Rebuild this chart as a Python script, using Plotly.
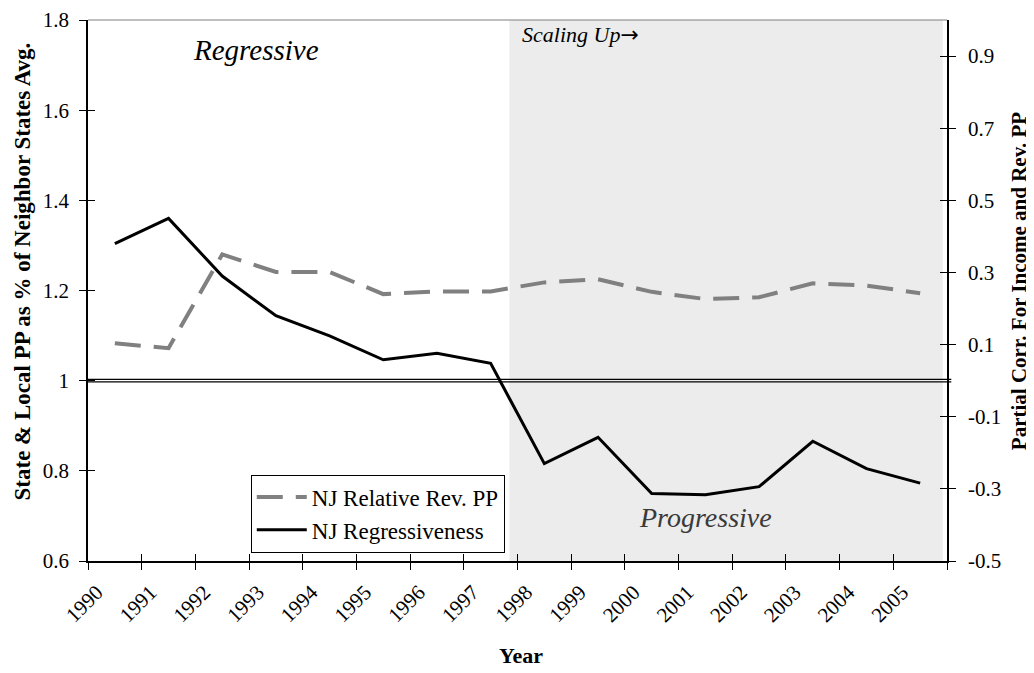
import plotly.graph_objects as go

years = [str(y) for y in range(1990, 2006)]
rel_rev_pp = [1.083, 1.072, 1.28, 1.241, 1.241, 1.192, 1.198, 1.198,
              1.218, 1.225, 1.197, 1.181, 1.185, 1.216, 1.211, 1.194]
regressiveness = [0.38, 0.45, 0.29, 0.18, 0.124, 0.058, 0.076, 0.048,
                  -0.23, -0.157, -0.313, -0.316, -0.294, -0.168, -0.244, -0.284]

left_ticks = [0.6, 0.8, 1.0, 1.2, 1.4, 1.6, 1.8]
left_ticktext = ["0.6", "0.8", "1", "1.2", "1.4", "1.6", "1.8"]
right_ticks = [-0.5, -0.3, -0.1, 0.1, 0.3, 0.5, 0.7, 0.9]
right_ticktext = ["-0.5", "-0.3", "-0.1", "0.1", "0.3", "0.5", "0.7", "0.9"]

FONT = "Liberation Serif"

fig = go.Figure()

fig.add_trace(go.Scatter(
    x=years, y=rel_rev_pp, name="NJ Relative Rev. PP", mode="lines",
    line=dict(color="#808080", width=4, dash="26px,13px"),
    xaxis="x", yaxis="y"))
fig.add_trace(go.Scatter(
    x=years, y=regressiveness, name="NJ Regressiveness", mode="lines",
    line=dict(color="#000000", width=3),
    xaxis="x", yaxis="y2"))

# invisible helper traces so overlay axes (inner tick halves) are drawn
for xa, ya, yy in [("x2", "y", rel_rev_pp), ("x", "y3", rel_rev_pp), ("x", "y4", regressiveness)]:
    fig.add_trace(go.Scatter(x=years, y=yy, mode="lines", opacity=0,
                             line=dict(width=0), showlegend=False,
                             hoverinfo="skip", xaxis=xa, yaxis=ya))

tick_common = dict(tickcolor="black", tickwidth=1.3, ticklen=7, showgrid=False,
                   zeroline=False, automargin=False)

# the page body adds an 8px offset, so the figure is sized to fill the 1034x673 window
fig.update_layout(
    width=1026, height=665,
    margin=dict(l=80, r=87, t=12, b=112),
    paper_bgcolor="white", plot_bgcolor="white",
    font=dict(family=FONT, color="black", size=22),
    xaxis=dict(type="category", categoryorder="array", categoryarray=years,
               range=[-0.5, 15.5], tickson="boundaries", ticks="outside",
               tickangle=-45, tickfont=dict(size=21, family=FONT),
               ticklabelstandoff=9, ticklabelshift=-18,
               showline=True, linecolor="black", linewidth=1.5,
               **tick_common),
    xaxis2=dict(type="category", categoryorder="array", categoryarray=years,
                range=[-0.5, 15.5], tickson="boundaries", ticks="inside",
                overlaying="x", anchor="y", side="bottom",
                showticklabels=False, showline=False, **tick_common),
    yaxis=dict(range=[0.6, 1.8], tickvals=left_ticks, ticktext=left_ticktext,
               ticks="outside", showline=True, linecolor="black", linewidth=1.5,
               tickfont=dict(size=21, family=FONT), ticklabelstandoff=6,
               ticklabeloverflow="allow",
               **tick_common),
    yaxis2=dict(range=[-0.5, 1.0], tickvals=right_ticks, ticktext=right_ticktext,
                overlaying="y", side="right", anchor="x",
                ticks="outside", showline=True, linecolor="black", linewidth=1.5,
                tickfont=dict(size=21, family=FONT), ticklabelstandoff=8,
                ticklabeloverflow="allow",
                **tick_common),
    yaxis3=dict(range=[0.6, 1.8], tickvals=left_ticks, overlaying="y", side="left",
                anchor="x", ticks="inside", showticklabels=False, showline=False,
                **tick_common),
    yaxis4=dict(range=[-0.5, 1.0], tickvals=right_ticks, overlaying="y", side="right",
                anchor="x", ticks="inside", showticklabels=False, showline=False,
                **tick_common),
    legend=dict(x=0.1895, y=0.0157, xanchor="left", yanchor="bottom",
                bgcolor="white", bordercolor="black", borderwidth=1,
                font=dict(size=23, family=FONT), tracegroupgap=0,
                itemwidth=50),
    showlegend=True,
)

# shaded "Scaling Up" region
fig.add_shape(type="rect", xref="x", yref="paper", x0=7.35, x1=15.42, y0=0, y1=1,
              fillcolor="#ececec", line=dict(width=0), layer="below")
# top border
fig.add_shape(type="line", xref="paper", yref="paper", x0=0, x1=1, y0=1, y1=1,
              line=dict(color="#808080", width=1.2))
# double line at parity (1.0 left / 0 right)
for off in (-0.0029, 0.0029):
    fig.add_shape(type="line", xref="paper", yref="y", x0=0, x1=1.005,
                  y0=1.0 + off, y1=1.0 + off, line=dict(color="black", width=1.3))

ann = dict(xref="paper", yref="paper", showarrow=False, xanchor="center", yanchor="middle")
# axis titles
fig.add_annotation(text="<b>State &amp; Local PP as % of Neighbor States Avg.</b>",
                   x=-0.0757, y=0.5351, textangle=-90, font=dict(size=23, family=FONT), **ann)
fig.add_annotation(text="<b>Partial Corr. For Income and Rev. PP</b>",
                   x=1.084, y=0.5176, textangle=-90, font=dict(size=21, family=FONT), **ann)
fig.add_annotation(text="<b>Year</b>", x=0.504, y=-0.1738,
                   font=dict(size=22, family=FONT), **ann)

fig.add_annotation(text="<i>Regressive</i>", x=0.195, y=0.9445,
                   font=dict(size=29, family=FONT), **ann)
fig.add_annotation(text="<i>Scaling Up</i><span style=\"font-family:DejaVu Sans\">→</span>",
                   x=0.503, y=0.9723, font=dict(size=22, family=FONT),
                   **{**ann, "xanchor": "left"})
fig.add_annotation(text="<i>Progressive</i>", x=0.7186, y=0.0795,
                   font=dict(size=28, family=FONT, color="#3a3a3a"), **ann)

fig.write_html("out.html")
